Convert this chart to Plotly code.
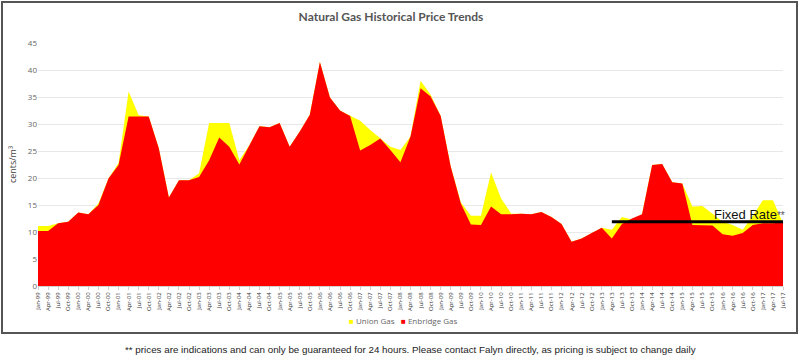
import plotly.graph_objects as go

months = ["Jan", "Apr", "Jul", "Oct"]
labels = [f"{m}-{y % 100:02d}" for y in range(1999, 2018) for m in months][:75]

enbridge = [10.2, 10.2, 11.6, 11.9, 13.6, 13.3, 15.0, 19.9, 22.4, 31.4,
            31.4, 31.4, 25.5, 16.4, 19.6, 19.6, 20.2, 23.3, 27.5, 25.8,
            22.5, 26.1, 29.6, 29.4, 30.2, 25.8, 28.6, 31.7, 41.5, 34.9,
            32.5, 31.5, 25.1, 26.1, 27.3, 25.2, 22.9, 27.7, 36.6, 35.1,
            31.5, 22.1, 15.3, 11.4, 11.3, 14.7, 13.3, 13.3, 13.4, 13.3,
            13.7, 12.8, 11.5, 8.2, 8.8, 9.8, 10.8, 8.8, 11.5, 12.5,
            13.3, 22.4, 22.6, 19.2, 19.0, 11.3, 11.3, 11.2, 9.6, 9.3,
            9.8, 11.3, 11.6, 11.6, 11.8]

union = [11.1, 11.1, 11.6, 11.9, 13.6, 13.3, 15.3, 19.9, 22.8, 36.0,
         31.6, 31.4, 25.5, 16.4, 19.6, 19.6, 20.9, 30.2, 30.2, 30.2,
         23.3, 26.1, 29.6, 29.4, 30.2, 25.8, 28.6, 31.7, 41.5, 34.9,
         32.5, 31.5, 30.6, 28.9, 27.3, 25.8, 25.2, 27.7, 38.0, 35.4,
         31.5, 22.1, 15.5, 13.0, 13.0, 21.0, 16.2, 13.4, 13.4, 13.3,
         13.7, 12.8, 11.5, 8.2, 8.8, 9.8, 10.8, 10.4, 12.8, 12.3,
         13.3, 22.4, 22.6, 19.2, 19.0, 14.7, 14.8, 13.4, 11.9, 11.3,
         10.4, 13.0, 15.9, 15.9, 11.6]

fixed_rate = 11.9
fixed_start = "Apr-13"
fixed_end = "Jul-17"

series_names = ["Union Gas", "Enbridge Gas"]
UNION_COLOR = "#FFFF00"
ENBRIDGE_COLOR = "#FF0000"

x = list(range(len(labels)))
i0 = labels.index(fixed_start)
i1 = labels.index(fixed_end)

fig = go.Figure()
fig.add_trace(go.Scatter(x=x, y=union, name=series_names[0], mode="lines",
                         fill="tozeroy", fillcolor=UNION_COLOR, showlegend=False,
                         line=dict(width=0, color=UNION_COLOR)))
fig.add_trace(go.Scatter(x=x, y=enbridge, name=series_names[1], mode="lines",
                         fill="tozeroy", fillcolor=ENBRIDGE_COLOR, showlegend=False,
                         line=dict(width=0, color=ENBRIDGE_COLOR)))
fig.add_trace(go.Scatter(x=[i0, i1], y=[fixed_rate, fixed_rate], mode="lines",
                         line=dict(color="black", width=3), showlegend=False,
                         hoverinfo="skip"))

fig.add_annotation(x=i1, y=fixed_rate, xref="x", yref="y",
                   text="Fixed Rate<span style='font-size:10px;color:#555'>**</span>",
                   showarrow=False, xanchor="right", yanchor="bottom",
                   xshift=4, yshift=-2,
                   font=dict(family="Liberation Sans, Arial", size=13, color="#111"))

# geometry helpers (pixel -> paper)
L, R, T, B = 38, 783, 43, 286
W, H = R - L, B - T
def px(v):
    return (v - L) / W
def py(v):
    return (B - v) / H

# outer frame
fig.add_shape(type="rect", xref="paper", yref="paper",
              x0=px(2), x1=px(797), y0=py(333), y1=py(2),
              line=dict(color="#555555", width=2), layer="below")

# legend (custom swatches)
for name, color, xpos in [(series_names[0], UNION_COLOR, 347),
                          (series_names[1], ENBRIDGE_COLOR, 399)]:
    fig.add_annotation(xref="paper", yref="paper", x=px(xpos), y=py(320),
                       text=f"<span style='color:{color}'>■</span> {name}",
                       showarrow=False, xanchor="left", yanchor="middle",
                       font=dict(family="Open Sans", size=8, color="#666"))

fig.add_annotation(xref="paper", yref="paper", x=px(410), y=py(349),
                   text="** prices are indications and can only be guaranteed for 24 hours. Please contact Falyn directly, as pricing is subject to change daily",
                   showarrow=False, xanchor="center", yanchor="middle",
                   font=dict(family="Liberation Sans Narrow, Liberation Sans, Arial", size=9.8, color="#222"))

fig.update_layout(
    width=800, height=362,
    margin=dict(l=L, r=800 - R, t=T, b=362 - B, autoexpand=False),
    paper_bgcolor="white", plot_bgcolor="white",
    title=dict(text="<b>Natural Gas Historical Price Trends</b>", x=px(391), xanchor="center",
               xref="paper", y=1 - 17 / 362, yanchor="middle",
               font=dict(family="Lato", size=12, color="#555")),
    showlegend=False,
)
fig.update_xaxes(tickmode="array", tickvals=x, ticktext=labels, tickangle=-90,
                 range=[0, len(labels) - 1], showgrid=False, zeroline=False,
                 ticks="outside", ticklen=3, tickcolor="#d0d0d0",
                 showline=True, linecolor="#d0d0d0", linewidth=1,
                 tickfont=dict(family="Open Sans", size=6, color="#333"))
fig.update_yaxes(range=[0, 45], dtick=5, showgrid=True, gridcolor="#e8e8e8",
                 zeroline=False, showline=False,
                 tickfont=dict(family="Open Sans", size=8, color="#666"),
                 title=dict(text="cents/m³", standoff=9,
                            font=dict(family="Open Sans", size=9, color="#444")))

fig.write_html("out.html", config={"displayModeBar": False},
               post_script="document.body.style.margin='0';document.body.style.overflow='hidden';")
